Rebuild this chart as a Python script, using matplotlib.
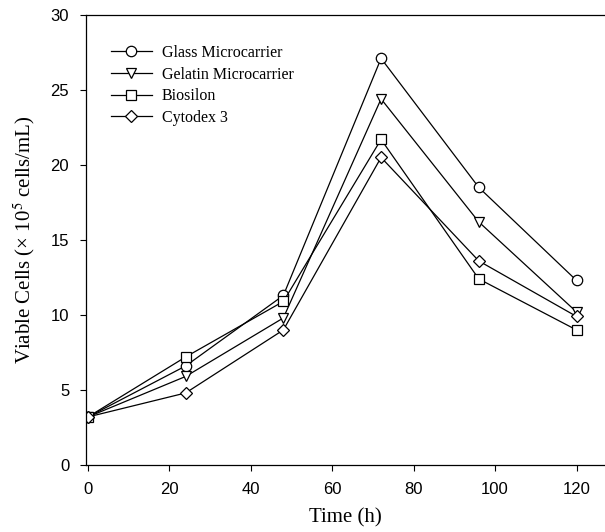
import matplotlib
matplotlib.use("Agg")
import matplotlib.pyplot as plt

# time points (h)
time_h = [0, 24, 48, 72, 96, 120]

# viable cells (x 10^5 cells/mL)
glass = [3.2, 6.6, 11.3, 27.1, 18.5, 12.3]
gelatin = [3.2, 5.9, 9.8, 24.4, 16.2, 10.2]
biosilon = [3.2, 7.2, 10.9, 21.7, 12.4, 9.0]
cytodex = [3.2, 4.8, 9.0, 20.5, 13.6, 9.9]

labels = ["Glass Microcarrier", "Gelatin Microcarrier", "Biosilon", "Cytodex 3"]
markers = ["o", "v", "s", "D"]

plt.rcParams["mathtext.fontset"] = "stix"

fig = plt.figure(figsize=(6.05, 5.32), dpi=100)
ax = fig.add_axes([0.142, 0.126, 0.858, 0.846])

for y, lab, m in zip([glass, gelatin, biosilon, cytodex], labels, markers):
    ms = 6.5 if m == "D" else 7.5
    ax.plot(time_h, y, color="black", lw=0.9, marker=m, ms=ms,
            mfc="white", mec="black", mew=0.9, label=lab)

ax.set_xlim(-0.5, 127)
ax.set_ylim(0, 30)
ax.set_xticks([0, 20, 40, 60, 80, 100, 120])
ax.set_yticks([0, 5, 10, 15, 20, 25, 30])
ax.tick_params(direction="out", length=4, width=0.8, labelsize=12, pad=8)
for t in ax.get_xticklabels() + ax.get_yticklabels():
    t.set_fontfamily("Liberation Sans")

ax.spines["right"].set_visible(False)
for s in ["left", "bottom", "top"]:
    ax.spines[s].set_linewidth(0.9)

ax.set_xlabel("Time (h)", fontfamily="Liberation Serif", fontsize=15, labelpad=8)
ax.set_ylabel("Viable Cells (\u00d7 10$^5$ cells/mL)", fontfamily="Liberation Serif",
              fontsize=15, labelpad=10)

leg = ax.legend(loc="upper left", bbox_to_anchor=(0.02, 0.965), frameon=False,
                prop={"family": "Liberation Serif", "size": 11.5},
                handlelength=2.6, labelspacing=0.35, handletextpad=0.6)

fig.savefig("out.png", dpi=100)
